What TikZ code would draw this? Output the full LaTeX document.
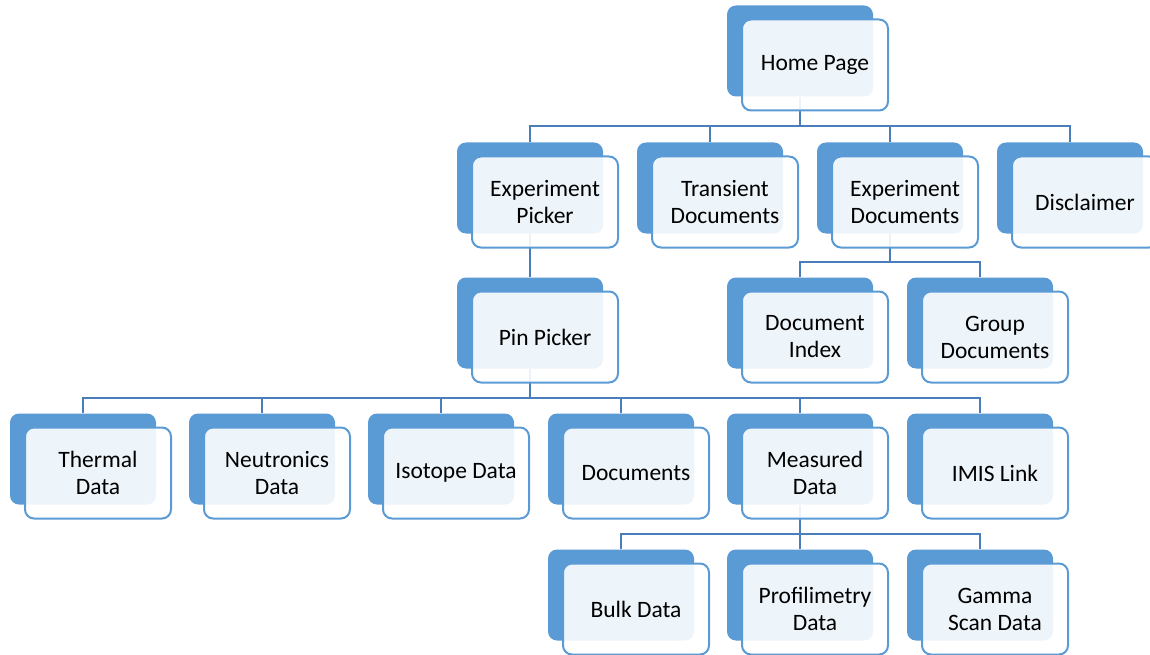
\documentclass[tikz,border=0pt]{standalone}
\usepackage{fontspec}
\setmainfont{Carlito}
\usetikzlibrary{backgrounds}
\definecolor{accent}{HTML}{5B9BD5}
\definecolor{linkblue}{HTML}{4A7EBB}
\tikzset{
	backbox/.style={fill=accent,rounded corners=9pt,minimum width=146pt,minimum height=91pt,inner sep=0pt},
	frontbox/.style={draw=accent,line width=2pt,fill=white,fill opacity=0.9,text opacity=1,rounded corners=9pt,
		minimum width=146pt,minimum height=91pt,inner sep=0pt,align=center,
		font=\fontsize{23.5}{27}\selectfont},
	link/.style={draw=linkblue,line width=2.2pt}
}
\begin{document}
\begin{tikzpicture}[x=1pt,y=-1pt]
	\useasboundingbox (0,0) rectangle (1150,655);
	% home
	\node[backbox] (home-b) at (800,51) {};
	\node[frontbox] (home) at (815,65) {Home Page};
	% second row
	\node[backbox] (exppick-b) at (530,188) {};
	\node[frontbox] (exppick) at (545,202) {Experiment\\Picker};
	\node[backbox] (trans-b) at (710,188) {};
	\node[frontbox] (trans) at (725,202) {Transient\\Documents};
	\node[backbox] (expdoc-b) at (890,188) {};
	\node[frontbox] (expdoc) at (905,202) {Experiment\\Documents};
	\node[backbox] (disc-b) at (1070,188) {};
	\node[frontbox] (disc) at (1085,202) {Disclaimer};
	% third row
	\node[backbox] (pin-b) at (530,323) {};
	\node[frontbox] (pin) at (545,337) {Pin Picker};
	\node[backbox] (docidx-b) at (800,323) {};
	\node[frontbox] (docidx) at (815,337) {Document\\Index};
	\node[backbox] (grpdoc-b) at (980,323) {};
	\node[frontbox] (grpdoc) at (995,337) {Group\\Documents};
	% fourth row
	\node[backbox] (therm-b) at (83,459) {};
	\node[frontbox] (therm) at (98,473) {Thermal\\Data};
	\node[backbox] (neut-b) at (262,459) {};
	\node[frontbox] (neut) at (277,473) {Neutronics\\Data};
	\node[backbox] (iso-b) at (441,459) {};
	\node[frontbox] (iso) at (456,473) {Isotope Data};
	\node[backbox] (docs-b) at (621,459) {};
	\node[frontbox] (docs) at (636,473) {Documents};
	\node[backbox] (meas-b) at (800,459) {};
	\node[frontbox] (meas) at (815,473) {Measured\\Data};
	\node[backbox] (imis-b) at (980,459) {};
	\node[frontbox] (imis) at (995,473) {IMIS Link};
	% fifth row
	\node[backbox] (bulk-b) at (621,595) {};
	\node[frontbox] (bulk) at (636,609) {Bulk Data};
	\node[backbox] (prof-b) at (800,595) {};
	\node[frontbox] (prof) at (815,609) {Profilimetry\\Data};
	\node[backbox] (gamma-b) at (980,595) {};
	\node[frontbox] (gamma) at (995,609) {Gamma\\Scan Data};
	% connectors
	\begin{scope}[on background layer]
		\foreach \c in {exppick,trans,expdoc,disc}
			\draw[link] (\c-b.north) -- ++(0,-16) -| (home-b.south);
		\draw[link] (pin-b.north) -- (exppick-b.south);
		\foreach \c in {docidx,grpdoc}
			\draw[link] (\c-b.north) -- ++(0,-15) -| (expdoc-b.south);
		\foreach \c in {therm,neut,iso,docs,meas,imis}
			\draw[link] (\c-b.north) -- ++(0,-15) -| (pin-b.south);
		\foreach \c in {bulk,prof,gamma}
			\draw[link] (\c-b.north) -- ++(0,-15) -| (meas-b.south);
	\end{scope}
\end{tikzpicture}
\end{document}
